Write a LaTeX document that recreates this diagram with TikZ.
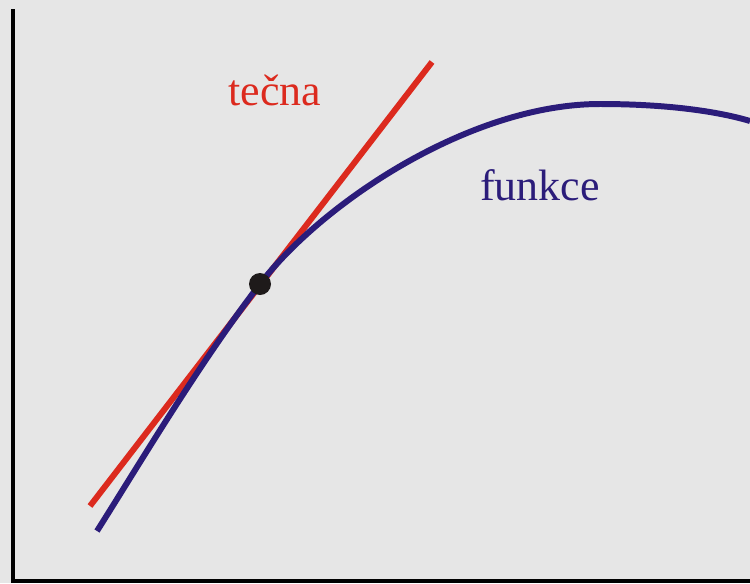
\documentclass[tikz,border=0pt]{standalone}
\usepackage{fontspec}
\setmainfont{Liberation Serif}
\definecolor{bgGray}{HTML}{E6E6E6}
\definecolor{tecnaRed}{HTML}{DC2A1E}
\definecolor{funkceBlue}{HTML}{2B1C7A}
\definecolor{dotBlack}{HTML}{1E1A1A}
\begin{document}
\begin{tikzpicture}[x={(0.02cm,0)}, y={(0,-0.02cm)}]
      \tikzset{axis/.style={black, line width=1.9pt},
               curveline/.style={line width=3.4pt},
               lbl/.style={font=\fontsize{25}{30}\selectfont, inner sep=0pt}}
      \fill[bgGray] (0,0) rectangle (750,583);
      \useasboundingbox (0,0) rectangle (750,583);
      \coordinate (origin) at (13,581);
      \coordinate (ytop) at (13,9);
      \coordinate (xend) at (750,581);
      \draw[axis] (ytop) -- (origin) -- (xend);
      \coordinate (tlow) at (90,506);
      \coordinate (thigh) at (432,62);
      \coordinate (touch) at (260,284);
      \draw[tecnaRed, curveline] (tlow) -- (thigh);
      \draw[funkceBlue, curveline] (97,531) .. controls (140,463) and (200,362) .. (touch)
            .. controls (322,203) and (470,104) .. (600,104)
            .. controls (670,104) and (720,112) .. (750,121);
      \node[circle, fill=dotBlack, minimum size=22*0.02cm, inner sep=0pt] (dot) at (touch) {};
      \node[lbl, text=tecnaRed] (tecna) at (275,90) {tečna};
      \node[lbl, text=funkceBlue] (funkce) at (540,185) {funkce};
    \end{tikzpicture}
\end{document}
